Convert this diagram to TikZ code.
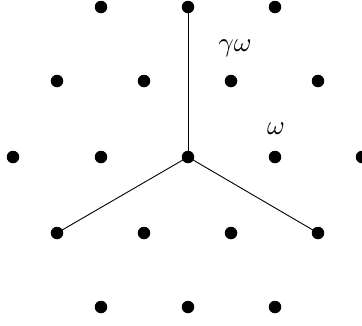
\documentclass[tikz,border=0pt]{standalone}
\begin{document}
\begin{tikzpicture}[x=1pt,y=-1pt,
  dot/.style={circle,fill=black,inner sep=0pt,minimum size=12.5pt},
  edge/.style={draw=black,line width=0.9pt},
  lab/.style={scale=2.7,inner sep=0pt}]
\useasboundingbox (0,0) rectangle (362,325);
% lattice
\foreach \x [count=\i] in {101,188,275} \node[dot] (a\i) at (\x,7) {};
\foreach \x [count=\i] in {57,144,231,318} \node[dot] (b\i) at (\x,81) {};
\foreach \x [count=\i] in {13,101,188,275,362} \node[dot] (c\i) at (\x,157) {};
\foreach \x [count=\i] in {57,144,231,318} \node[dot] (d\i) at (\x,233) {};
\foreach \x [count=\i] in {101,188,275} \node[dot] (e\i) at (\x,307) {};
\draw[edge] (c3.center) -- (a2.center);
\draw[edge] (c3.center) -- (d1.center);
\draw[edge] (c3.center) -- (d4.center);
\node[lab] (g) at (235,48) {$\gamma\omega$};
\node[lab] (w) at (276,129) {$\omega$};
\end{tikzpicture}
\end{document}
